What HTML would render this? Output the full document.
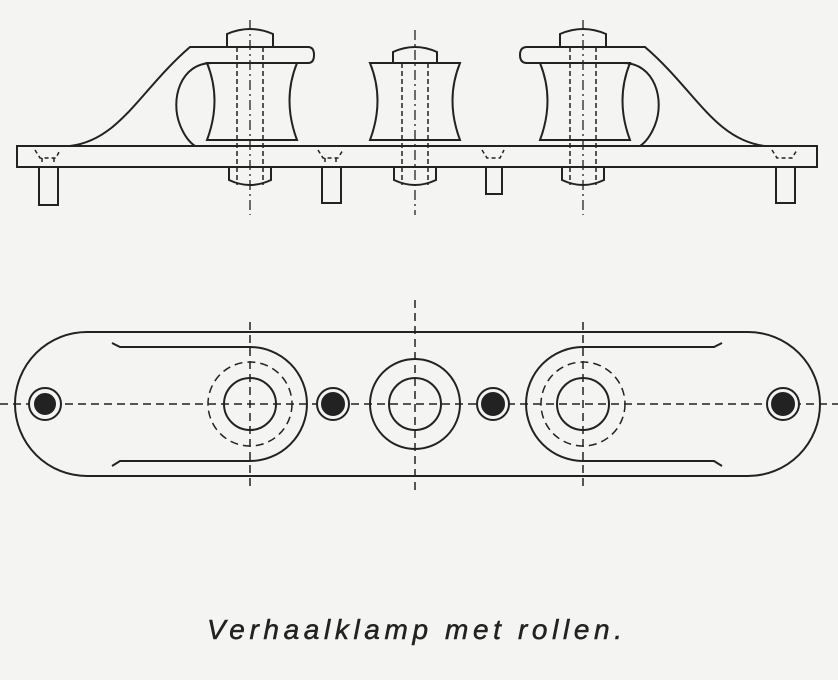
<!DOCTYPE html><html><head><style>body{margin:0;background:#f4f4f2}svg{display:block}</style></head><body>
<svg width="838" height="680" viewBox="0 0 838 680" xmlns="http://www.w3.org/2000/svg" fill="none" stroke="#222" stroke-width="2">
<rect width="838" height="680" fill="#f4f4f2" stroke="none"/>
<rect x="17" y="146" width="800" height="21"/>
<g>
<path d="M39 167V205H58V167"/><path d="M322 167V203H341V167"/><path d="M486 167V194H502V167"/><path d="M776 167V203H795V167"/>
</g>
<g stroke-width="1.5" stroke-dasharray="4 3">
<path d="M35 150L40 158H56L60 150M42 158V165M54 158V165"/>
<path d="M318 150L323 158H338L343 150M325 158V165M336 158V165"/>
<path d="M482 150L487 158H500L504 150"/>
<path d="M772 150L777 158H792L797 150"/>
</g>
<path d="M70 146C120 140 140 90 190 47H308Q314 47 314 55Q314 63 308 63H212C180 63 170 100 180 125Q186 140 195 146"/>
<path d="M765 146C715 140 695 90 645 47H527Q520 47 520 55Q520 63 527 63H623C655 63 665 100 655 125Q649 140 640 146"/>
<g id="r">
<path d="M207 63Q222 100 207 140H297Q282 100 297 63Z"/>
<path d="M227 47V34Q250 24 273 34V47"/>
<path d="M229 167V180Q250 190 271 180V167"/>
<g stroke-width="1.5" stroke-dasharray="5 3"><path d="M237 47V185M263 47V185"/></g>
<path d="M250 20V215" stroke-width="1.3" stroke-dasharray="10 4 2 4"/>
</g>
<use href="#r" transform="translate(333 0)"/>
<path d="M370 63Q385 100 370 140H460Q445 100 460 63Z"/>
<path d="M393 63V52Q415 42 437 52V63"/>
<path d="M394 167V180Q415 190 436 180V167"/>
<g stroke-width="1.5" stroke-dasharray="5 3"><path d="M402 63V185M428 63V185"/></g>
<path d="M415 30V215" stroke-width="1.3" stroke-dasharray="10 4 2 4"/>
<path d="M87 332H748A72 72 0 0 1 748 476H87A72 72 0 0 1 87 332Z"/>
<path d="M112 343L120 347H250A57 57 0 0 1 250 461H120L112 466"/>
<path d="M722 343L714 347H583A57 57 0 0 0 583 461H714L722 466"/>
<g stroke-width="1.5" stroke-dasharray="8 5"><path d="M0 404H838"/><path d="M250 322V490M415 300V490M583 322V490"/>
<circle cx="250" cy="404" r="42"/><circle cx="583" cy="404" r="42"/></g>
<circle cx="250" cy="404" r="26"/><circle cx="583" cy="404" r="26"/>
<circle cx="415" cy="404" r="45"/><circle cx="415" cy="404" r="26"/>
<g fill="#f4f4f2"><circle cx="45" cy="404" r="16"/><circle cx="333" cy="404" r="16"/><circle cx="493" cy="404" r="16"/><circle cx="783" cy="404" r="16"/></g>
<g fill="#222"><circle cx="45" cy="404" r="10"/><circle cx="333" cy="404" r="11"/><circle cx="493" cy="404" r="11"/><circle cx="783" cy="404" r="11"/></g>
<text x="207" y="639" textLength="415" lengthAdjust="spacing" fill="#222" stroke="#222" stroke-width="0.5" font-family="Liberation Sans, sans-serif" font-style="italic" font-size="28">Verhaalklamp met rollen.</text>
</svg></body></html>
